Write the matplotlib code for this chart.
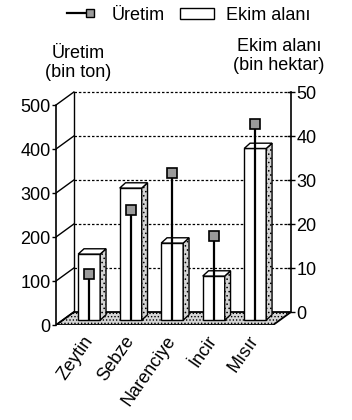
import numpy as np
import matplotlib.pyplot as plt
from matplotlib.lines import Line2D
from matplotlib.patches import Patch, Polygon
from matplotlib.legend_handler import HandlerBase

plt.rcParams['font.family'] = ['Liberation Sans', 'DejaVu Sans']
plt.rcParams['hatch.color'] = '#8a8a8a'
plt.rcParams['hatch.linewidth'] = 0.6

# data
categories = ['Zeytin', 'Sebze', 'Narenciye', 'İncir', 'Mısır']
ekim_alani = [15, 30, 17.5, 10, 39]       # bin hektar (bars, right axis)
uretim = [105, 250, 335, 190, 445]        # bin ton (markers, left axis)

left_ticks = [0, 100, 200, 300, 400, 500]
right_ticks = [0, 10, 20, 30, 40, 50]

# fake 3d geometry
DX = 0.43            # depth shift, category units
DYT = 29.5           # depth shift, ton units
DYH = DYT / 10       # depth shift, hektar units
F = 0.38             # where the bars stand (fraction of depth)
X0, X1 = -0.8, 4.43  # front edge of the floor
BW = 0.53            # bar width
BDX, BDY = 0.14, 1.2 # bar's own depth

xs = np.arange(len(categories))


class LineThenMarker(HandlerBase):
    # legend handle drawn as "——■"
    def create_artists(self, legend, orig, xdescent, ydescent, width, height, fontsize, trans):
        y = height / 2 - ydescent
        xm = -xdescent + width * 0.72
        line = Line2D([-xdescent + width * 0.05, xm], [y, y], color='k', lw=1.6, transform=trans)
        mark = Line2D([xm], [y], marker='s', ms=6, mfc='#9a9a9a', mec='k', mew=1,
                      ls='none', transform=trans)
        return [line, mark]


fig = plt.figure(figsize=(3.52, 4.2), dpi=100)
ax = fig.add_axes([56 / 352, 95 / 420, (292.6 - 56) / 352, 242 / 420])

# floor
floor = Polygon([(X0, 0), (X1, 0), (X1 + DX, DYT), (X0 + DX, DYT)], closed=True,
                facecolor='#d6d6d6', edgecolor='k', lw=1.3, hatch='.....', zorder=1)
ax.add_patch(floor)

# back wall: left edge, dashed grid, diagonals to the front axis
ax.plot([X0 + DX, X0 + DX], [DYT, 500 + DYT], color='k', lw=1, zorder=2)
for t in left_ticks[1:]:
    ax.plot([X0 + DX, X1 + DX], [t + DYT, t + DYT], color='k', lw=0.9,
            ls=(0, (2, 1.5)), zorder=2)
for t in left_ticks:
    ax.plot([X0, X0 + DX], [t, t + DYT], color='k', lw=1, zorder=2)

# left axis (front)
for s in ['top', 'right', 'bottom']:
    ax.spines[s].set_visible(False)
ax.spines['left'].set_position(('data', X0))
ax.spines['left'].set_bounds(0, 500)
ax.spines['left'].set_linewidth(1.2)
ax.set_yticks(left_ticks)
ax.tick_params(axis='y', direction='out', length=3, width=1, labelsize=13, pad=1)
ax.set_xticks(xs)
ax.set_xticklabels(categories, rotation=55, ha='right', va='center',
                   rotation_mode='anchor', fontsize=13)
ax.tick_params(axis='x', length=0, pad=9)

# right axis (back)
ax2 = ax.twinx()
for s in ['top', 'left', 'bottom']:
    ax2.spines[s].set_visible(False)
ax2.spines['right'].set_position(('data', X1 + DX))
ax2.spines['right'].set_bounds(0, 50)
ax2.spines['right'].set_linewidth(1.2)
ax2.set_yticks(right_ticks)
ax2.tick_params(axis='y', direction='inout', length=6, width=1, labelsize=13, pad=1)

# bars (Ekim alani)
base = -(1 - F) * DYH
ax2.bar(xs, ekim_alani, width=BW, bottom=base, color='white', edgecolor='k', lw=1, zorder=3)
for x, v in zip(xs, ekim_alani):
    r = x + BW / 2
    l = x - BW / 2
    side = Polygon([(r, base), (r + BDX, base + BDY), (r + BDX, base + v + BDY), (r, base + v)],
                   closed=True, facecolor='#d4d4d4', edgecolor='k', lw=1, hatch='....', zorder=3)
    top = Polygon([(l, base + v), (l + BDX, base + v + BDY), (r + BDX, base + v + BDY), (r, base + v)],
                  closed=True, facecolor='white', edgecolor='k', lw=1, zorder=3)
    ax2.add_patch(side)
    ax2.add_patch(top)

# production: drop lines + square markers, in ton units
ton = np.array(uretim) + F * DYT
ax2.vlines(xs, F * DYT, ton, colors='k', lw=1.6, transform=ax.transData, zorder=4)
ax2.plot(xs, ton, ls='none', marker='s', ms=7, mfc='#9a9a9a', mec='k', mew=1.2,
         transform=ax.transData, zorder=5)

ax.set_xlim(-0.8, 4.9)
ax.set_ylim(0, 550)
ax2.set_ylim(-DYH, 55 - DYH)

# axis titles
fig.text(78 / 352, 1 - 63 / 420, 'Üretim\n(bin ton)', ha='center', va='center',
         fontsize=13, linespacing=1.1)
fig.text(279 / 352, 1 - 56 / 420, 'Ekim alanı\n(bin hektar)', ha='center', va='center',
         fontsize=13, linespacing=1.1)

# legend
line_h = Line2D([], [], color='k')
bar_h = Patch(facecolor='white', edgecolor='k')
fig.legend([line_h, bar_h], ['Üretim', 'Ekim alanı'], loc='center',
           bbox_to_anchor=(188 / 352, 1 - 15 / 420), ncol=2, frameon=False,
           fontsize=13, handlelength=1.9, handleheight=0.55, handletextpad=0.7,
           columnspacing=0.8, borderpad=0, handler_map={line_h: LineThenMarker()})

fig.savefig('out.png', dpi=100)
